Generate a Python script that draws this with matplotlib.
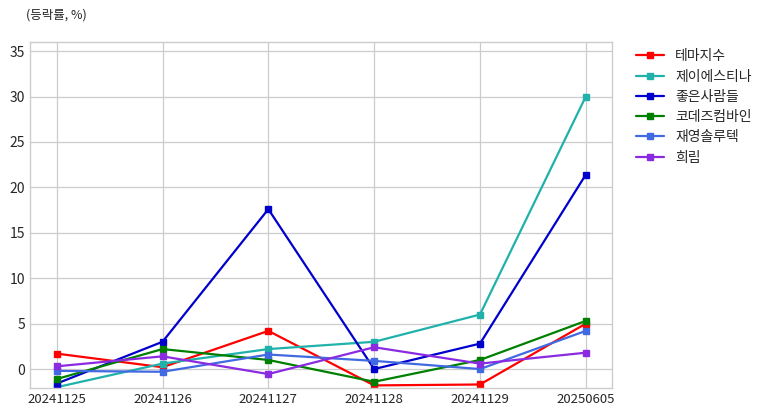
import numpy as np
import matplotlib.pyplot as plt

dates = ["20241125", "20241126", "20241127", "20241128", "20241129", "20250605"]
theme = [1.7, 0.2, 4.2, -1.8, -1.7, 5.0]
jestina = [-2.0, 0.6, 2.2, 3.0, 6.0, 30.0]
goodpeople = [-1.6, 3.0, 17.6, 0.0, 2.8, 21.4]
codes = [-1.1, 2.2, 1.0, -1.4, 1.0, 5.3]
jaeyoung = [-0.2, -0.3, 1.6, 0.9, 0.0, 4.2]
heerim = [0.3, 1.4, -0.55, 2.4, 0.6, 1.8]

names = ["테마지수", "제이에스티나", "좋은사람들", "코데즈컴바인", "재영솔루텍", "희림"]
series = [theme, jestina, goodpeople, codes, jaeyoung, heerim]
colors = ["red", "lightseagreen", "mediumblue", "green", "royalblue", "blueviolet"]

plt.style.use('seaborn-v0_8-whitegrid')
plt.rcParams['font.family'] = ['Noto Sans CJK KR', 'DejaVu Sans']

fig = plt.figure(figsize=(7.75, 4.16), dpi=100)
ax = fig.add_axes([0.039, 0.067, 0.751, 0.832])

x = np.arange(len(dates))
for name, vals, c in zip(names, series, colors):
    ax.plot(x, vals, marker='s', markersize=5, linewidth=1.6, color=c, label=name)

ax.set_xticks(x)
ax.set_xticklabels(dates, fontsize=9.5)
ax.set_xlim(-0.25, 5.25)
ax.set_ylim(-2.1, 36)
ax.set_yticks([0, 5, 10, 15, 20, 25, 30, 35])
ax.tick_params(axis='y', labelsize=10)
for s in ax.spines.values():
    s.set_visible(True)
    s.set_color('#cccccc')
ax.grid(True, color='#cccccc', linewidth=0.9)

fig.text(0.033, 0.955, "(등락률, %)", fontsize=9)
ax.legend(loc='upper left', bbox_to_anchor=(1.02, 1.015), fontsize=10, frameon=False,
          handlelength=2.0, labelspacing=0.45)

plt.savefig('out.png', dpi=100)
